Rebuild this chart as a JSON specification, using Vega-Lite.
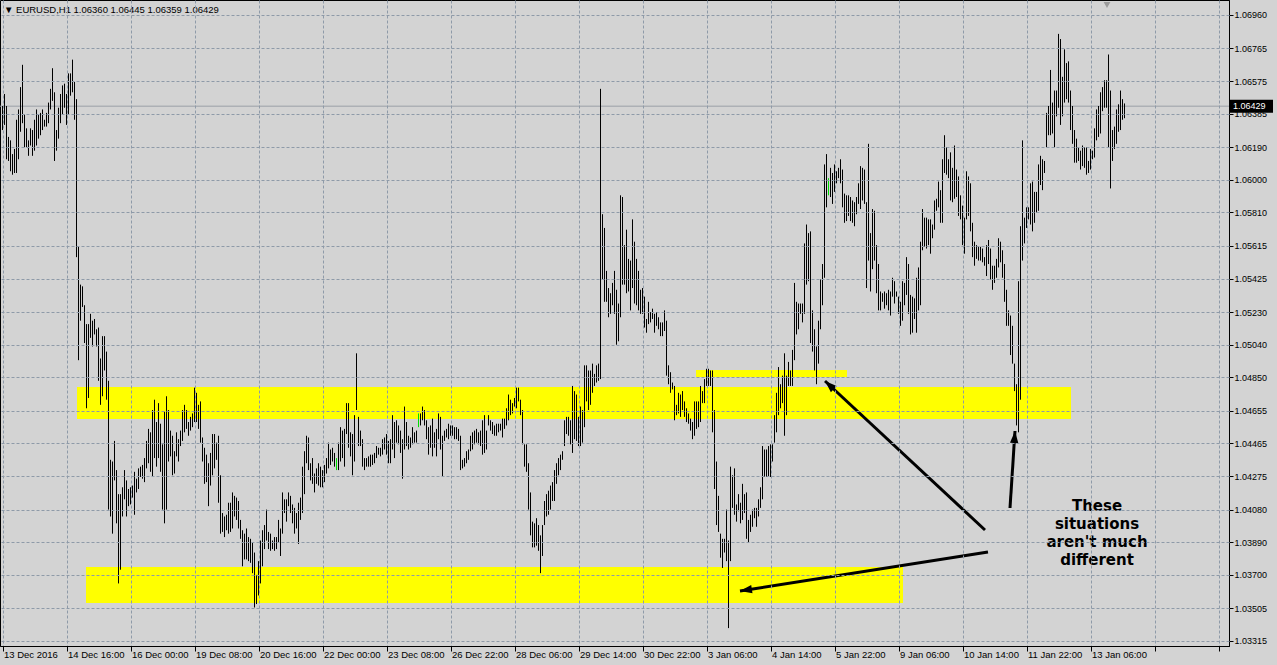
{
"$schema": "https://vega.github.io/schema/vega-lite/v6.json",
"width": 1229, "height": 646,
"autosize": {"type": "none"},
"padding": {"left": 0, "top": 0, "right": 48, "bottom": 19},
"background": "#d3d3d3",
"config": {"view": {"stroke": "#000000", "strokeWidth": 1, "fill": "#d3d3d3"}},
"resolve": {"axis": {"y": "independent"}},
"datasets": {
"bars": [
{"k":0,"h":1.0643,"l":1.0629},{"k":1,"h":1.0650,"l":1.0632},{"k":2,"h":1.0643,"l":1.0612},{"k":3,"h":1.0625,"l":1.0611},{"k":4,"h":1.0623,"l":1.0605},{"k":5,"h":1.0615,"l":1.0603},{"k":6,"h":1.0618,"l":1.0604},{"k":7,"h":1.0635,"l":1.0604},{"k":8,"h":1.0641,"l":1.0612},{"k":9,"h":1.0654,"l":1.0628},
{"k":10,"h":1.0667,"l":1.0633},{"k":11,"h":1.0638,"l":1.0619},{"k":12,"h":1.0630,"l":1.0619},{"k":13,"h":1.0623,"l":1.0614},{"k":14,"h":1.0630,"l":1.0620},{"k":15,"h":1.0629,"l":1.0614},{"k":16,"h":1.0635,"l":1.0617},{"k":17,"h":1.0641,"l":1.0620},{"k":18,"h":1.0638,"l":1.0624},{"k":19,"h":1.0639,"l":1.0626},
{"k":20,"h":1.0641,"l":1.0629},{"k":21,"h":1.0635,"l":1.0631},{"k":22,"h":1.0639,"l":1.0631},{"k":23,"h":1.0645,"l":1.0633},{"k":24,"h":1.0653,"l":1.0641},{"k":25,"h":1.0665,"l":1.0646},{"k":26,"h":1.0651,"l":1.0611},{"k":27,"h":1.0629,"l":1.0617},{"k":28,"h":1.0642,"l":1.0624},{"k":29,"h":1.0650,"l":1.0633},
{"k":30,"h":1.0655,"l":1.0638},{"k":31,"h":1.0656,"l":1.0642},{"k":32,"h":1.0650,"l":1.0632},{"k":33,"h":1.0662,"l":1.0638},{"k":34,"h":1.0662,"l":1.0649},{"k":35,"h":1.0670,"l":1.0651},{"k":36,"h":1.0657,"l":1.0635},{"k":37,"h":1.0647,"l":1.0555},{"k":38,"h":1.0561,"l":1.0495},{"k":39,"h":1.0539,"l":1.0518},
{"k":40,"h":1.0538,"l":1.0526},{"k":41,"h":1.0527,"l":1.0505},{"k":42,"h":1.0516,"l":1.0467},{"k":43,"h":1.0516,"l":1.0473},{"k":44,"h":1.0522,"l":1.0508},{"k":45,"h":1.0518,"l":1.0503},{"k":46,"h":1.0519,"l":1.0510},{"k":47,"h":1.0513,"l":1.0503},{"k":48,"h":1.0514,"l":1.0483},{"k":49,"h":1.0496,"l":1.0469},
{"k":50,"h":1.0509,"l":1.0474},{"k":51,"h":1.0509,"l":1.0489},{"k":52,"h":1.0500,"l":1.0472},{"k":53,"h":1.0483,"l":1.0408},{"k":54,"h":1.0437,"l":1.0404},{"k":55,"h":1.0436,"l":1.0394},{"k":56,"h":1.0448,"l":1.0425},{"k":57,"h":1.0431,"l":1.0400},{"k":58,"h":1.0417,"l":1.0365},{"k":59,"h":1.0417,"l":1.0373},
{"k":60,"h":1.0421,"l":1.0404},{"k":61,"h":1.0431,"l":1.0414},{"k":62,"h":1.0425,"l":1.0404},{"k":63,"h":1.0420,"l":1.0410},{"k":64,"h":1.0421,"l":1.0411},{"k":65,"h":1.0422,"l":1.0415},{"k":66,"h":1.0430,"l":1.0405},{"k":67,"h":1.0426,"l":1.0418},{"k":68,"h":1.0432,"l":1.0420},{"k":69,"h":1.0433,"l":1.0427},
{"k":70,"h":1.0434,"l":1.0426},{"k":71,"h":1.0438,"l":1.0424},{"k":72,"h":1.0448,"l":1.0432},{"k":73,"h":1.0455,"l":1.0435},{"k":74,"h":1.0453,"l":1.0430},{"k":75,"h":1.0466,"l":1.0427},{"k":76,"h":1.0472,"l":1.0438},{"k":77,"h":1.0459,"l":1.0433},{"k":78,"h":1.0470,"l":1.0438},{"k":79,"h":1.0458,"l":1.0430},
{"k":80,"h":1.0446,"l":1.0408},{"k":81,"h":1.0465,"l":1.0400},{"k":82,"h":1.0474,"l":1.0408},{"k":83,"h":1.0466,"l":1.0436},{"k":84,"h":1.0454,"l":1.0439},{"k":85,"h":1.0451,"l":1.0428},{"k":86,"h":1.0442,"l":1.0429},{"k":87,"h":1.0453,"l":1.0439},{"k":88,"h":1.0449,"l":1.0436},{"k":89,"h":1.0454,"l":1.0445},
{"k":90,"h":1.0466,"l":1.0448},{"k":91,"h":1.0469,"l":1.0453},{"k":92,"h":1.0466,"l":1.0455},{"k":93,"h":1.0459,"l":1.0451},{"k":94,"h":1.0462,"l":1.0454},{"k":95,"h":1.0464,"l":1.0456},{"k":96,"h":1.0479,"l":1.0459},{"k":97,"h":1.0476,"l":1.0459},{"k":98,"h":1.0469,"l":1.0455},{"k":99,"h":1.0471,"l":1.0447},
{"k":100,"h":1.0450,"l":1.0436},{"k":101,"h":1.0444,"l":1.0423},{"k":102,"h":1.0440,"l":1.0424},{"k":103,"h":1.0435,"l":1.0410},{"k":104,"h":1.0441,"l":1.0422},{"k":105,"h":1.0452,"l":1.0428},{"k":106,"h":1.0452,"l":1.0432},{"k":107,"h":1.0447,"l":1.0437},{"k":108,"h":1.0451,"l":1.0412},{"k":109,"h":1.0428,"l":1.0394},
{"k":110,"h":1.0406,"l":1.0395},{"k":111,"h":1.0404,"l":1.0392},{"k":112,"h":1.0405,"l":1.0396},{"k":113,"h":1.0412,"l":1.0394},{"k":114,"h":1.0412,"l":1.0395},{"k":115,"h":1.0418,"l":1.0397},{"k":116,"h":1.0416,"l":1.0404},{"k":117,"h":1.0415,"l":1.0402},{"k":118,"h":1.0413,"l":1.0397},{"k":119,"h":1.0402,"l":1.0391},
{"k":120,"h":1.0396,"l":1.0375},{"k":121,"h":1.0394,"l":1.0379},{"k":122,"h":1.0397,"l":1.0379},{"k":123,"h":1.0392,"l":1.0378},{"k":124,"h":1.0391,"l":1.0377},{"k":125,"h":1.0389,"l":1.0371},{"k":126,"h":1.0383,"l":1.0351},{"k":127,"h":1.0370,"l":1.0353},{"k":128,"h":1.0378,"l":1.0358},{"k":129,"h":1.0390,"l":1.0365},
{"k":130,"h":1.0396,"l":1.0375},{"k":131,"h":1.0399,"l":1.0385},{"k":132,"h":1.0408,"l":1.0390},{"k":133,"h":1.0395,"l":1.0385},{"k":134,"h":1.0394,"l":1.0384},{"k":135,"h":1.0390,"l":1.0385},{"k":136,"h":1.0392,"l":1.0384},{"k":137,"h":1.0392,"l":1.0385},{"k":138,"h":1.0402,"l":1.0389},{"k":139,"h":1.0397,"l":1.0381},
{"k":140,"h":1.0418,"l":1.0394},{"k":141,"h":1.0414,"l":1.0406},{"k":142,"h":1.0414,"l":1.0401},{"k":143,"h":1.0418,"l":1.0410},{"k":144,"h":1.0416,"l":1.0406},{"k":145,"h":1.0411,"l":1.0400},{"k":146,"h":1.0409,"l":1.0394},{"k":147,"h":1.0406,"l":1.0397},{"k":148,"h":1.0412,"l":1.0388},{"k":149,"h":1.0415,"l":1.0402},
{"k":150,"h":1.0433,"l":1.0406},{"k":151,"h":1.0442,"l":1.0417},{"k":152,"h":1.0451,"l":1.0435},{"k":153,"h":1.0450,"l":1.0431},{"k":154,"h":1.0435,"l":1.0425},{"k":155,"h":1.0438,"l":1.0423},{"k":156,"h":1.0429,"l":1.0418},{"k":157,"h":1.0432,"l":1.0423},{"k":158,"h":1.0435,"l":1.0422},{"k":159,"h":1.0433,"l":1.0421},
{"k":160,"h":1.0431,"l":1.0421},{"k":161,"h":1.0434,"l":1.0424},{"k":162,"h":1.0438,"l":1.0429},{"k":163,"h":1.0447,"l":1.0432},{"k":164,"h":1.0443,"l":1.0434},{"k":165,"h":1.0444,"l":1.0436},{"k":166,"h":1.0441,"l":1.0433},{"k":167,"h":1.0438,"l":1.0431,"doji":true},{"k":168,"h":1.0447,"l":1.0431},{"k":169,"h":1.0456,"l":1.0436},
{"k":170,"h":1.0454,"l":1.0438},{"k":171,"h":1.0455,"l":1.0433},{"k":172,"h":1.0470,"l":1.0452},{"k":173,"h":1.0470,"l":1.0444},{"k":174,"h":1.0453,"l":1.0439},{"k":175,"h":1.0452,"l":1.0428},{"k":176,"h":1.0463,"l":1.0436},{"k":177,"h":1.0499,"l":1.0466},{"k":178,"h":1.0462,"l":1.0445},{"k":179,"h":1.0454,"l":1.0445},
{"k":180,"h":1.0449,"l":1.0433},{"k":181,"h":1.0438,"l":1.0431},{"k":182,"h":1.0438,"l":1.0433},{"k":183,"h":1.0439,"l":1.0433},{"k":184,"h":1.0440,"l":1.0433},{"k":185,"h":1.0440,"l":1.0434},{"k":186,"h":1.0441,"l":1.0435},{"k":187,"h":1.0445,"l":1.0438},{"k":188,"h":1.0444,"l":1.0440},{"k":189,"h":1.0444,"l":1.0439},
{"k":190,"h":1.0449,"l":1.0440},{"k":191,"h":1.0450,"l":1.0443},{"k":192,"h":1.0452,"l":1.0440},{"k":193,"h":1.0448,"l":1.0435},{"k":194,"h":1.0449,"l":1.0435},{"k":195,"h":1.0463,"l":1.0443},{"k":196,"h":1.0459,"l":1.0438},{"k":197,"h":1.0460,"l":1.0447},{"k":198,"h":1.0457,"l":1.0446},{"k":199,"h":1.0454,"l":1.0441},
{"k":200,"h":1.0449,"l":1.0426},{"k":201,"h":1.0468,"l":1.0443},{"k":202,"h":1.0459,"l":1.0445},{"k":203,"h":1.0451,"l":1.0443},{"k":204,"h":1.0450,"l":1.0444},{"k":205,"h":1.0456,"l":1.0446},{"k":206,"h":1.0453,"l":1.0447},{"k":207,"h":1.0454,"l":1.0447},{"k":208,"h":1.0464,"l":1.0456,"doji":true},{"k":209,"h":1.0464,"l":1.0457},
{"k":210,"h":1.0468,"l":1.0460},{"k":211,"h":1.0466,"l":1.0457},{"k":212,"h":1.0460,"l":1.0449},{"k":213,"h":1.0456,"l":1.0440},{"k":214,"h":1.0457,"l":1.0444},{"k":215,"h":1.0461,"l":1.0439},{"k":216,"h":1.0453,"l":1.0444},{"k":217,"h":1.0455,"l":1.0439},{"k":218,"h":1.0464,"l":1.0449},{"k":219,"h":1.0462,"l":1.0443},
{"k":220,"h":1.0451,"l":1.0427},{"k":221,"h":1.0454,"l":1.0448},{"k":222,"h":1.0455,"l":1.0450},{"k":223,"h":1.0458,"l":1.0449},{"k":224,"h":1.0457,"l":1.0451},{"k":225,"h":1.0457,"l":1.0451},{"k":226,"h":1.0456,"l":1.0449},{"k":227,"h":1.0456,"l":1.0449},{"k":228,"h":1.0455,"l":1.0448},{"k":229,"h":1.0451,"l":1.0431},
{"k":230,"h":1.0437,"l":1.0432},{"k":231,"h":1.0438,"l":1.0433},{"k":232,"h":1.0442,"l":1.0435},{"k":233,"h":1.0443,"l":1.0437},{"k":234,"h":1.0451,"l":1.0442},{"k":235,"h":1.0453,"l":1.0443},{"k":236,"h":1.0454,"l":1.0446},{"k":237,"h":1.0455,"l":1.0447},{"k":238,"h":1.0453,"l":1.0446},{"k":239,"h":1.0454,"l":1.0445},
{"k":240,"h":1.0460,"l":1.0440},{"k":241,"h":1.0463,"l":1.0441},{"k":242,"h":1.0454,"l":1.0443},{"k":243,"h":1.0463,"l":1.0457},{"k":244,"h":1.0460,"l":1.0454},{"k":245,"h":1.0459,"l":1.0452},{"k":246,"h":1.0457,"l":1.0451},{"k":247,"h":1.0458,"l":1.0451},{"k":248,"h":1.0458,"l":1.0453},{"k":249,"h":1.0458,"l":1.0454},
{"k":250,"h":1.0461,"l":1.0450},{"k":251,"h":1.0461,"l":1.0455},{"k":252,"h":1.0467,"l":1.0457},{"k":253,"h":1.0475,"l":1.0460},{"k":254,"h":1.0472,"l":1.0463},{"k":255,"h":1.0470,"l":1.0464},{"k":256,"h":1.0473,"l":1.0468},{"k":257,"h":1.0479,"l":1.0467},{"k":258,"h":1.0479,"l":1.0471},{"k":259,"h":1.0472,"l":1.0463},
{"k":260,"h":1.0466,"l":1.0446},{"k":261,"h":1.0446,"l":1.0433},{"k":262,"h":1.0446,"l":1.0430},{"k":263,"h":1.0435,"l":1.0408},{"k":264,"h":1.0418,"l":1.0393},{"k":265,"h":1.0401,"l":1.0386},{"k":266,"h":1.0400,"l":1.0386},{"k":267,"h":1.0403,"l":1.0387},{"k":268,"h":1.0399,"l":1.0384},{"k":269,"h":1.0393,"l":1.0371},
{"k":270,"h":1.0399,"l":1.0381},{"k":271,"h":1.0413,"l":1.0399},{"k":272,"h":1.0417,"l":1.0404},{"k":273,"h":1.0419,"l":1.0405},{"k":274,"h":1.0422,"l":1.0408},{"k":275,"h":1.0424,"l":1.0413},{"k":276,"h":1.0431,"l":1.0413},{"k":277,"h":1.0435,"l":1.0423},{"k":278,"h":1.0438,"l":1.0428},{"k":279,"h":1.0440,"l":1.0431},
{"k":280,"h":1.0442,"l":1.0437},{"k":281,"h":1.0460,"l":1.0445},{"k":282,"h":1.0462,"l":1.0452},{"k":283,"h":1.0462,"l":1.0451},{"k":284,"h":1.0460,"l":1.0446},{"k":285,"h":1.0480,"l":1.0441},{"k":286,"h":1.0477,"l":1.0449},{"k":287,"h":1.0475,"l":1.0448},{"k":288,"h":1.0462,"l":1.0445},{"k":289,"h":1.0468,"l":1.0445},
{"k":290,"h":1.0466,"l":1.0447},{"k":291,"h":1.0492,"l":1.0456},{"k":292,"h":1.0492,"l":1.0471},{"k":293,"h":1.0489,"l":1.0466},{"k":294,"h":1.0489,"l":1.0469},{"k":295,"h":1.0493,"l":1.0476},{"k":296,"h":1.0487,"l":1.0480},{"k":297,"h":1.0492,"l":1.0482},{"k":298,"h":1.0493,"l":1.0483},{"k":299,"h":1.0653,"l":1.0484},
{"k":300,"h":1.0580,"l":1.0542},{"k":301,"h":1.0572,"l":1.0529},{"k":302,"h":1.0547,"l":1.0529},{"k":303,"h":1.0537,"l":1.0520},{"k":304,"h":1.0534,"l":1.0522},{"k":305,"h":1.0540,"l":1.0527},{"k":306,"h":1.0547,"l":1.0522},{"k":307,"h":1.0536,"l":1.0504},{"k":308,"h":1.0528,"l":1.0506},{"k":309,"h":1.0591,"l":1.0520},
{"k":310,"h":1.0590,"l":1.0539},{"k":311,"h":1.0562,"l":1.0539},{"k":312,"h":1.0571,"l":1.0534},{"k":313,"h":1.0554,"l":1.0535},{"k":314,"h":1.0553,"l":1.0524},{"k":315,"h":1.0577,"l":1.0537},{"k":316,"h":1.0564,"l":1.0528},{"k":317,"h":1.0554,"l":1.0527},{"k":318,"h":1.0547,"l":1.0524},{"k":319,"h":1.0536,"l":1.0522},
{"k":320,"h":1.0537,"l":1.0522},{"k":321,"h":1.0532,"l":1.0514},{"k":322,"h":1.0519,"l":1.0511},{"k":323,"h":1.0529,"l":1.0516},{"k":324,"h":1.0523,"l":1.0517},{"k":325,"h":1.0525,"l":1.0519},{"k":326,"h":1.0522,"l":1.0511},{"k":327,"h":1.0523,"l":1.0515},{"k":328,"h":1.0520,"l":1.0513},{"k":329,"h":1.0517,"l":1.0509},
{"k":330,"h":1.0517,"l":1.0509},{"k":331,"h":1.0524,"l":1.0512},{"k":332,"h":1.0518,"l":1.0486},{"k":333,"h":1.0492,"l":1.0481},{"k":334,"h":1.0488,"l":1.0476},{"k":335,"h":1.0482,"l":1.0478},{"k":336,"h":1.0480,"l":1.0460},{"k":337,"h":1.0469,"l":1.0463},{"k":338,"h":1.0476,"l":1.0464},{"k":339,"h":1.0475,"l":1.0462},
{"k":340,"h":1.0477,"l":1.0466},{"k":341,"h":1.0471,"l":1.0462},{"k":342,"h":1.0467,"l":1.0459},{"k":343,"h":1.0464,"l":1.0458},{"k":344,"h":1.0461,"l":1.0454},{"k":345,"h":1.0459,"l":1.0449},{"k":346,"h":1.0471,"l":1.0451},{"k":347,"h":1.0471,"l":1.0455},{"k":348,"h":1.0471,"l":1.0456},{"k":349,"h":1.0480,"l":1.0459},
{"k":350,"h":1.0477,"l":1.0470},{"k":351,"h":1.0484,"l":1.0470},{"k":352,"h":1.0490,"l":1.0480},{"k":353,"h":1.0490,"l":1.0480},{"k":354,"h":1.0489,"l":1.0480},{"k":355,"h":1.0489,"l":1.0453},{"k":356,"h":1.0466,"l":1.0420},{"k":357,"h":1.0436,"l":1.0399},{"k":358,"h":1.0416,"l":1.0395},{"k":359,"h":1.0394,"l":1.0380},
{"k":360,"h":1.0391,"l":1.0374},{"k":361,"h":1.0391,"l":1.0383},{"k":362,"h":1.0408,"l":1.0378},{"k":363,"h":1.0390,"l":1.0339},{"k":364,"h":1.0433,"l":1.0378},{"k":365,"h":1.0428,"l":1.0409},{"k":366,"h":1.0432,"l":1.0405},{"k":367,"h":1.0411,"l":1.0401},{"k":368,"h":1.0417,"l":1.0407},{"k":369,"h":1.0412,"l":1.0400},
{"k":370,"h":1.0423,"l":1.0402},{"k":371,"h":1.0417,"l":1.0406},{"k":372,"h":1.0418,"l":1.0391},{"k":373,"h":1.0402,"l":1.0389},{"k":374,"h":1.0405,"l":1.0395},{"k":375,"h":1.0408,"l":1.0398},{"k":376,"h":1.0409,"l":1.0403},{"k":377,"h":1.0409,"l":1.0398},{"k":378,"h":1.0414,"l":1.0404},{"k":379,"h":1.0421,"l":1.0409},
{"k":380,"h":1.0445,"l":1.0414},{"k":381,"h":1.0443,"l":1.0427},{"k":382,"h":1.0443,"l":1.0427},{"k":383,"h":1.0445,"l":1.0427},{"k":384,"h":1.0446,"l":1.0427},{"k":385,"h":1.0446,"l":1.0436},{"k":386,"h":1.0463,"l":1.0447},{"k":387,"h":1.0476,"l":1.0453},{"k":388,"h":1.0491,"l":1.0463},{"k":389,"h":1.0481,"l":1.0467},
{"k":390,"h":1.0486,"l":1.0470},{"k":391,"h":1.0499,"l":1.0451},{"k":392,"h":1.0486,"l":1.0463},{"k":393,"h":1.0494,"l":1.0480},{"k":394,"h":1.0489,"l":1.0480},{"k":395,"h":1.0501,"l":1.0480},{"k":396,"h":1.0540,"l":1.0495},{"k":397,"h":1.0529,"l":1.0510},{"k":398,"h":1.0528,"l":1.0513},{"k":399,"h":1.0528,"l":1.0522},
{"k":400,"h":1.0528,"l":1.0517},{"k":401,"h":1.0563,"l":1.0522},{"k":402,"h":1.0574,"l":1.0539},{"k":403,"h":1.0569,"l":1.0541},{"k":404,"h":1.0570,"l":1.0505},{"k":405,"h":1.0524,"l":1.0500},{"k":406,"h":1.0513,"l":1.0489},{"k":407,"h":1.0503,"l":1.0481},{"k":408,"h":1.0518,"l":1.0493},{"k":409,"h":1.0542,"l":1.0513},
{"k":410,"h":1.0551,"l":1.0527},{"k":411,"h":1.0609,"l":1.0543},{"k":412,"h":1.0615,"l":1.0584},{"k":413,"h":1.0601,"l":1.0591,"doji":true},{"k":414,"h":1.0607,"l":1.0590},{"k":415,"h":1.0604,"l":1.0586},{"k":416,"h":1.0609,"l":1.0593},{"k":417,"h":1.0605,"l":1.0598},{"k":418,"h":1.0607,"l":1.0601},{"k":419,"h":1.0612,"l":1.0598},
{"k":420,"h":1.0606,"l":1.0584},{"k":421,"h":1.0592,"l":1.0575},{"k":422,"h":1.0591,"l":1.0576},{"k":423,"h":1.0591,"l":1.0579},{"k":424,"h":1.0590,"l":1.0576},{"k":425,"h":1.0588,"l":1.0575},{"k":426,"h":1.0587,"l":1.0573},{"k":427,"h":1.0590,"l":1.0580},{"k":428,"h":1.0598,"l":1.0586},{"k":429,"h":1.0608,"l":1.0583},
{"k":430,"h":1.0607,"l":1.0588},{"k":431,"h":1.0606,"l":1.0586},{"k":432,"h":1.0587,"l":1.0537},{"k":433,"h":1.0621,"l":1.0553},{"k":434,"h":1.0569,"l":1.0535},{"k":435,"h":1.0583,"l":1.0548},{"k":436,"h":1.0582,"l":1.0553},{"k":437,"h":1.0562,"l":1.0534},{"k":438,"h":1.0551,"l":1.0524},{"k":439,"h":1.0535,"l":1.0524},
{"k":440,"h":1.0534,"l":1.0529},{"k":441,"h":1.0535,"l":1.0525},{"k":442,"h":1.0534,"l":1.0527},{"k":443,"h":1.0536,"l":1.0524},{"k":444,"h":1.0535,"l":1.0521},{"k":445,"h":1.0543,"l":1.0532},{"k":446,"h":1.0541,"l":1.0528},{"k":447,"h":1.0535,"l":1.0532},{"k":448,"h":1.0532,"l":1.0522},{"k":449,"h":1.0529,"l":1.0515},
{"k":450,"h":1.0541,"l":1.0518},{"k":451,"h":1.0540,"l":1.0527},{"k":452,"h":1.0555,"l":1.0533},{"k":453,"h":1.0551,"l":1.0522},{"k":454,"h":1.0533,"l":1.0510},{"k":455,"h":1.0532,"l":1.0511},{"k":456,"h":1.0531,"l":1.0519},{"k":457,"h":1.0543,"l":1.0511},{"k":458,"h":1.0549,"l":1.0524},{"k":459,"h":1.0564,"l":1.0527},
{"k":460,"h":1.0583,"l":1.0559},{"k":461,"h":1.0578,"l":1.0561},{"k":462,"h":1.0578,"l":1.0560},{"k":463,"h":1.0577,"l":1.0562},{"k":464,"h":1.0577,"l":1.0557},{"k":465,"h":1.0574,"l":1.0566},{"k":466,"h":1.0588,"l":1.0571},{"k":467,"h":1.0589,"l":1.0582},{"k":468,"h":1.0599,"l":1.0584},{"k":469,"h":1.0594,"l":1.0575},
{"k":470,"h":1.0612,"l":1.0575},{"k":471,"h":1.0626,"l":1.0604},{"k":472,"h":1.0619,"l":1.0603},{"k":473,"h":1.0612,"l":1.0601},{"k":474,"h":1.0616,"l":1.0588},{"k":475,"h":1.0607,"l":1.0587},{"k":476,"h":1.0620,"l":1.0589},{"k":477,"h":1.0606,"l":1.0590},{"k":478,"h":1.0602,"l":1.0579},{"k":479,"h":1.0591,"l":1.0577},
{"k":480,"h":1.0585,"l":1.0562},{"k":481,"h":1.0578,"l":1.0557},{"k":482,"h":1.0605,"l":1.0577},{"k":483,"h":1.0602,"l":1.0579},{"k":484,"h":1.0598,"l":1.0570},{"k":485,"h":1.0575,"l":1.0555},{"k":486,"h":1.0564,"l":1.0550},{"k":487,"h":1.0562,"l":1.0554},{"k":488,"h":1.0561,"l":1.0553},{"k":489,"h":1.0561,"l":1.0553},
{"k":490,"h":1.0560,"l":1.0552},{"k":491,"h":1.0555,"l":1.0550},{"k":492,"h":1.0562,"l":1.0544},{"k":493,"h":1.0565,"l":1.0551},{"k":494,"h":1.0560,"l":1.0542},{"k":495,"h":1.0550,"l":1.0536},{"k":496,"h":1.0550,"l":1.0540},{"k":497,"h":1.0554,"l":1.0543},{"k":498,"h":1.0566,"l":1.0549},{"k":499,"h":1.0564,"l":1.0552},
{"k":500,"h":1.0559,"l":1.0543},{"k":501,"h":1.0551,"l":1.0529},{"k":502,"h":1.0536,"l":1.0515},{"k":503,"h":1.0524,"l":1.0515},{"k":504,"h":1.0521,"l":1.0498},{"k":505,"h":1.0515,"l":1.0493},{"k":506,"h":1.0493,"l":1.0477},{"k":507,"h":1.0481,"l":1.0457},{"k":508,"h":1.0541,"l":1.0453},{"k":509,"h":1.0573,"l":1.0472},
{"k":510,"h":1.0623,"l":1.0553},{"k":511,"h":1.0578,"l":1.0563},{"k":512,"h":1.0584,"l":1.0572},{"k":513,"h":1.0584,"l":1.0577},{"k":514,"h":1.0598,"l":1.0574},{"k":515,"h":1.0599,"l":1.0570},{"k":516,"h":1.0593,"l":1.0575},{"k":517,"h":1.0593,"l":1.0581},{"k":518,"h":1.0609,"l":1.0582},{"k":519,"h":1.0614,"l":1.0597},
{"k":520,"h":1.0612,"l":1.0594},{"k":521,"h":1.0611,"l":1.0604},{"k":522,"h":1.0639,"l":1.0619},{"k":523,"h":1.0643,"l":1.0626},{"k":524,"h":1.0664,"l":1.0626},{"k":525,"h":1.0645,"l":1.0627},{"k":526,"h":1.0652,"l":1.0619},{"k":527,"h":1.0652,"l":1.0637},{"k":528,"h":1.0685,"l":1.0642},{"k":529,"h":1.0682,"l":1.0632},
{"k":530,"h":1.0660,"l":1.0637},{"k":531,"h":1.0676,"l":1.0645},{"k":532,"h":1.0668,"l":1.0647},{"k":533,"h":1.0669,"l":1.0645},{"k":534,"h":1.0652,"l":1.0629},{"k":535,"h":1.0643,"l":1.0621},{"k":536,"h":1.0629,"l":1.0610},{"k":537,"h":1.0624,"l":1.0610},{"k":538,"h":1.0619,"l":1.0611},{"k":539,"h":1.0617,"l":1.0606},
{"k":540,"h":1.0620,"l":1.0608},{"k":541,"h":1.0619,"l":1.0607},{"k":542,"h":1.0619,"l":1.0603},{"k":543,"h":1.0611,"l":1.0604},{"k":544,"h":1.0618,"l":1.0606},{"k":545,"h":1.0617,"l":1.0612},{"k":546,"h":1.0630,"l":1.0613},{"k":547,"h":1.0641,"l":1.0623},{"k":548,"h":1.0643,"l":1.0625},{"k":549,"h":1.0651,"l":1.0627},
{"k":550,"h":1.0654,"l":1.0640},{"k":551,"h":1.0658,"l":1.0642},{"k":552,"h":1.0658,"l":1.0642},{"k":553,"h":1.0673,"l":1.0619},{"k":554,"h":1.0652,"l":1.0595},{"k":555,"h":1.0629,"l":1.0611},{"k":556,"h":1.0631,"l":1.0618},{"k":557,"h":1.0641,"l":1.0621},{"k":558,"h":1.0644,"l":1.0628},{"k":559,"h":1.0652,"l":1.0629},
{"k":560,"h":1.0647,"l":1.0635},{"k":561,"h":1.06445,"l":1.06359}
],
"bands": [
{"k1":37.25,"k2":534.25,"p1":1.046076,"p2":1.047939},
{"k1":41.75,"k2":450.25,"p1":1.035362,"p2":1.037458},
{"k1":346.75,"k2":422.25,"p1":1.048521,"p2":1.048929}
],
"arrows": [
{"id":"a","k1":491.25,"p1":1.039613,"k2":411.25,"p2":1.048288},
{"id":"b","k1":503.75,"p1":1.040892,"k2":506.25,"p2":1.045377},
{"id":"c","k1":492.75,"p1":1.038332,"k2":368.75,"p2":1.036061}
],
"last": [{"p":1.06429}]
},
"layer": [
{"data": {"name": "bands"},
 "mark": {"type": "rect", "color": "#ffff00"},
 "encoding": {
  "x": {"field": "k1", "type": "quantitative", "scale": {"domain": [-1.25, 613.25], "nice": false, "zero": false},
   "axis": {"title": null, "orient": "bottom",
    "values": [0,16,32,48,64,80,96,112,128,144,160,176,192,208,224,240,256,272,288,304,320,336,352,368,384,400,416,432,448,464,480,496,512,528,544,560,576,592,608],
    "grid": true, "gridColor": "#8e9aa8", "gridDash": [3,2], "gridWidth": 1,
    "domain": true, "domainColor": "#000000",
    "ticks": true, "tickColor": "#000000", "tickSize": 5,
    "tickOpacity": {"condition": {"test": "datum.value % 32 === 0", "value": 1}, "value": 0},
    "labelExpr": "datum.value % 32 === 0 ? (['13 Dec 2016','14 Dec 16:00','16 Dec 00:00','19 Dec 08:00','20 Dec 16:00','22 Dec 00:00','23 Dec 08:00','26 Dec 22:00','28 Dec 06:00','29 Dec 14:00','30 Dec 22:00','3 Jan 06:00','4 Jan 14:00','5 Jan 22:00','9 Jan 06:00','10 Jan 14:00','11 Jan 22:00','13 Jan 06:00'][datum.value / 32] || '') : ''",
    "labelAlign": "left", "labelBaseline": "top", "labelPadding": -2, "labelOffset": 1,
    "labelFont": "Liberation Sans", "labelFontSize": 9.5, "labelColor": "#000000",
    "labelOverlap": false, "labelBound": false, "labelFlush": false, "zindex": 1}},
  "x2": {"field": "k2"},
  "y": {"field": "p1", "type": "quantitative", "scale": {"domain": [1.032858, 1.070473], "nice": false, "zero": false},
   "axis": {"title": null, "orient": "right",
    "values": [1.03315,1.03505,1.037,1.0389,1.0408,1.04275,1.04465,1.04655,1.0485,1.0504,1.0523,1.05425,1.05615,1.0581,1.06,1.0619,1.06385,1.06575,1.06765,1.0696],
    "grid": true, "gridColor": "#8e9aa8", "gridDash": [3,2], "gridWidth": 1,
    "labels": false, "ticks": false, "domain": false, "zindex": 1}},
  "y2": {"field": "p2"}
 }},
{"data": {"name": "last"},
 "mark": {"type": "rule", "color": "#9a9fa6", "strokeWidth": 1},
 "encoding": {"y": {"field": "p", "type": "quantitative", "axis": null}}},
{"data": {"name": "bars"},
 "mark": {"type": "rule", "strokeWidth": 1},
 "encoding": {
  "x": {"field": "k", "type": "quantitative", "axis": {"title": null}},
  "y": {"field": "l", "type": "quantitative",
   "axis": {"title": null, "orient": "right",
    "values": [1.03315,1.03505,1.037,1.0389,1.0408,1.04275,1.04465,1.04655,1.0485,1.0504,1.0523,1.05425,1.05615,1.0581,1.06,1.0619,1.06385,1.06575,1.06765,1.0696],
    "format": ".5f", "grid": false, "domain": true, "domainColor": "#000000",
    "ticks": true, "tickColor": "#000000", "tickSize": 4, "labelPadding": 1,
    "labelFont": "Liberation Sans", "labelFontSize": 9, "labelColor": "#000000",
    "labelOverlap": false, "labelBound": false, "labelFlush": false, "zindex": 0}},
  "y2": {"field": "h"},
  "color": {"condition": {"test": "datum.doji", "value": "#00dd00"}, "value": "#000000"}
 }},
{"data": {"name": "arrows"},
 "mark": {"type": "rule", "strokeWidth": 3, "color": "#000000"},
 "encoding": {
  "x": {"field": "k1", "type": "quantitative"},
  "x2": {"field": "k2"},
  "y": {"field": "p1", "type": "quantitative", "axis": null},
  "y2": {"field": "p2"}
 }},
{"data": {"name": "arrows"},
 "mark": {"type": "point", "shape": "M0,0L-0.7,2L0.7,2Z", "filled": true, "size": 144, "color": "#000000", "opacity": 1, "strokeWidth": 0},
 "encoding": {
  "x": {"field": "k2", "type": "quantitative"},
  "y": {"field": "p2", "type": "quantitative", "axis": null},
  "angle": {"condition": [{"test": "datum.id === 'a'", "value": 313}, {"test": "datum.id === 'b'", "value": 4}], "value": 261}
 }},
{"data": {"values": [{"k": 547.25, "p": 1.04101, "t": "These\nsituations\naren't much\ndifferent"}]},
 "mark": {"type": "text", "font": "DejaVu Sans", "fontWeight": "bold", "fontSize": 15, "lineBreak": "\n", "lineHeight": 18, "align": "center", "baseline": "middle", "color": "#000000"},
 "encoding": {
  "x": {"field": "k", "type": "quantitative"},
  "y": {"field": "p", "type": "quantitative", "axis": null},
  "text": {"field": "t"}
 }},
{"data": {"values": [{"t": "▼ EURUSD,H1  1.06360 1.06445 1.06359 1.06429"}]},
 "mark": {"type": "text", "font": "Liberation Sans", "fontSize": 9.5, "align": "left", "baseline": "middle", "color": "#000000"},
 "encoding": {
  "x": {"datum": 0.75},
  "y": {"datum": 1.069891, "type": "quantitative", "axis": null},
  "text": {"field": "t"}
 }},
{"data": {"values": [{"t": "shift"}]},
 "mark": {"type": "point", "shape": "triangle-down", "filled": true, "size": 45, "color": "#9a9a9a", "opacity": 1, "strokeWidth": 0},
 "encoding": {
  "x": {"datum": 552.25},
  "y": {"datum": 1.070182, "type": "quantitative", "axis": null}
 }},
{"data": {"name": "last"},
 "mark": {"type": "tick", "orient": "horizontal", "size": 43, "thickness": 13, "color": "#000000", "opacity": 1},
 "encoding": {
  "x": {"datum": 624.5},
  "y": {"field": "p", "type": "quantitative", "axis": null}
 }},
{"data": {"name": "last"},
 "mark": {"type": "text", "color": "#ffffff", "align": "left", "baseline": "middle", "font": "Liberation Sans", "fontSize": 9},
 "encoding": {
  "x": {"datum": 615.25},
  "y": {"field": "p", "type": "quantitative", "axis": null},
  "text": {"field": "p", "type": "quantitative", "format": ".5f"}
 }}
]
}
